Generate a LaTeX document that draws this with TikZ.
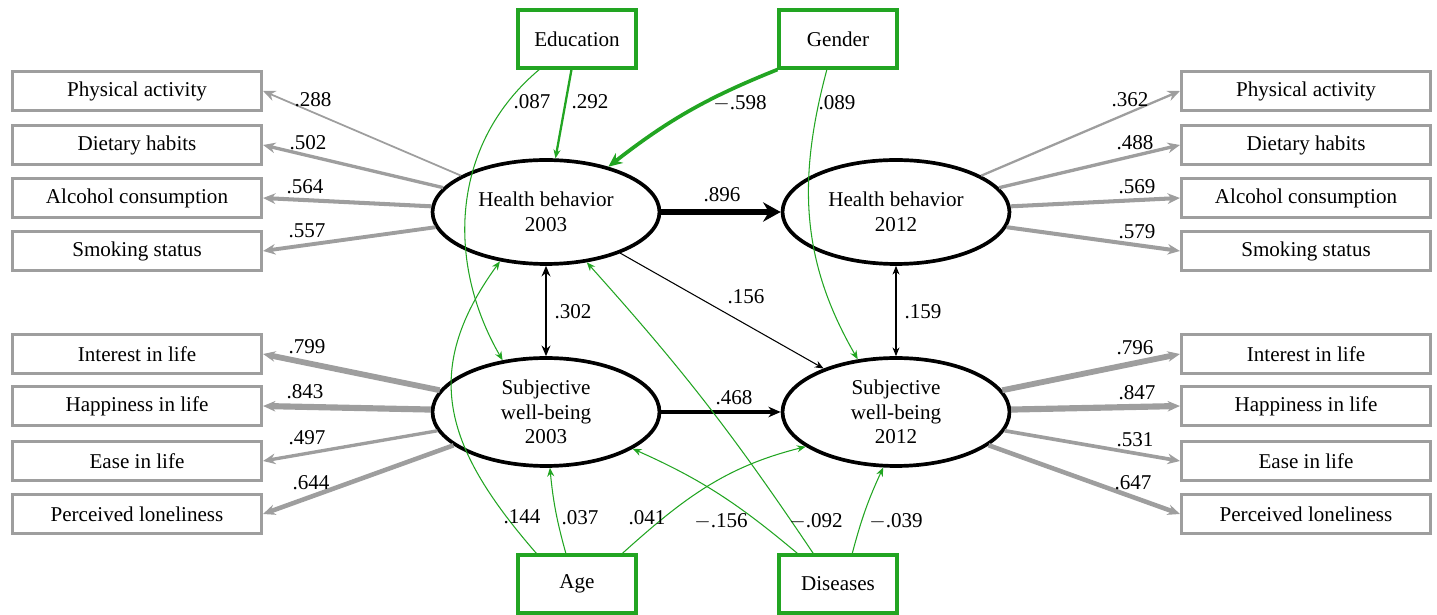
\documentclass[tikz,border=0pt]{standalone}
\usepackage{fontspec}
\setmainfont{Liberation Serif}
\usetikzlibrary{shapes.geometric,arrows.meta}
\definecolor{loadgray}{RGB}{158,158,158}
\definecolor{covgreen}{RGB}{34,165,34}

\begin{document}
\begin{tikzpicture}[x=0.02cm,y=0.02cm,
  every node/.style={font=\fontsize{12}{14}\selectfont},
  item/.style={draw=loadgray,line width=1.8pt,minimum width=4.98cm,minimum height=0.78cm,inner sep=0pt},
  covar/.style={draw=covgreen,line width=1.8pt,minimum width=2.36cm,minimum height=1.16cm,inner sep=0pt},
  latent/.style={draw,ellipse,line width=2.1pt,minimum width=4.54cm,minimum height=2.08cm,inner sep=1pt,align=center},
  load/.style={draw=loadgray,-{Stealth[length=7pt,width=6pt]}},
  eff/.style={draw=covgreen,line width=0.6pt,-{Stealth[length=5pt,width=4pt]}},
  coef/.style={inner sep=1pt}]

\useasboundingbox (0,0) rectangle (1437,615);

% latent variables
\node[latent] (hb1) at (546,403) {Health behavior\\2003};
\node[latent] (hb2) at (896,403) {Health behavior\\2012};
\node[latent,minimum height=2.16cm] (swb1) at (546,203) {Subjective\\well-being\\2003};
\node[latent,minimum height=2.16cm] (swb2) at (896,203) {Subjective\\well-being\\2012};

% covariates
\node[covar] (edu) at (577,576) {Education};
\node[covar] (gen) at (838,576) {Gender};
\node[covar] (age) at (577,31) {Age};
\node[covar] (dis) at (838,31) {Diseases};

% indicators 2003
\node[item] (pa1) at (137,524) {Physical activity};
\node[item] (dh1) at (137,470) {Dietary habits};
\node[item] (ac1) at (137,417) {Alcohol consumption};
\node[item] (ss1) at (137,364) {Smoking status};
\node[item] (il1) at (137,261) {Interest in life};
\node[item] (hl1) at (137,209) {Happiness in life};
\node[item] (el1) at (137,154) {Ease in life};
\node[item] (pl1) at (137,101) {Perceived loneliness};

% indicators 2012
\node[item] (pa2) at (1306,524) {Physical activity};
\node[item] (dh2) at (1306,470) {Dietary habits};
\node[item] (ac2) at (1306,417) {Alcohol consumption};
\node[item] (ss2) at (1306,364) {Smoking status};
\node[item] (il2) at (1306,261) {Interest in life};
\node[item] (hl2) at (1306,209) {Happiness in life};
\node[item] (el2) at (1306,154) {Ease in life};
\node[item] (pl2) at (1306,101) {Perceived loneliness};

% loadings
\draw[load,line width=1.0pt] (hb1) -- (pa1.east);
\draw[load,line width=1.9pt] (hb1) -- (dh1.east);
\draw[load,line width=2.3pt] (hb1) -- (ac1.east);
\draw[load,line width=2.2pt] (hb1) -- (ss1.east);
\draw[load,line width=3.3pt] (swb1) -- (il1.east);
\draw[load,line width=3.5pt] (swb1) -- (hl1.east);
\draw[load,line width=1.9pt] (swb1) -- (el1.east);
\draw[load,line width=2.6pt] (swb1) -- (pl1.east);
\draw[load,line width=1.3pt] (hb2) -- (pa2.west);
\draw[load,line width=1.9pt] (hb2) -- (dh2.west);
\draw[load,line width=2.3pt] (hb2) -- (ac2.west);
\draw[load,line width=2.3pt] (hb2) -- (ss2.west);
\draw[load,line width=3.3pt] (swb2) -- (il2.west);
\draw[load,line width=3.5pt] (swb2) -- (hl2.west);
\draw[load,line width=2.1pt] (swb2) -- (el2.west);
\draw[load,line width=2.6pt] (swb2) -- (pl2.west);

\node[coef] (c288) at (313,515) {.288};
\node[coef] (c502) at (308,472) {.502};
\node[coef] (c564) at (305,428) {.564};
\node[coef] (c557) at (307,384) {.557};
\node[coef] (c799) at (307,268) {.799};
\node[coef] (c843) at (305,223) {.843};
\node[coef] (c497) at (307,177) {.497};
\node[coef] (c644) at (311,132) {.644};
\node[coef] (c362) at (1130,515) {.362};
\node[coef] (c488) at (1135,472) {.488};
\node[coef] (c569) at (1137,428) {.569};
\node[coef] (c579) at (1137,383) {.579};
\node[coef] (c796) at (1135,267) {.796};
\node[coef] (c847) at (1137,222) {.847};
\node[coef] (c531) at (1135,175) {.531};
\node[coef] (c647) at (1133,132) {.647};

% structural paths
\draw[line width=3.6pt,-{Stealth[length=10pt,width=11pt]}] (hb1.east) -- (hb2.west);
\draw[line width=2pt,-{Stealth[length=7pt,width=6pt]}] (swb1.east) -- (swb2.west);
\draw[line width=0.6pt,-{Stealth[length=5pt,width=4pt]}] (hb1.331) -- (swb2.149);
\draw[line width=1.3pt,{Stealth[length=6pt,width=5pt]}-{Stealth[length=6pt,width=5pt]}] (hb1.south) -- (swb1.north);
\draw[line width=0.6pt,{Stealth[length=5pt,width=4pt]}-{Stealth[length=5pt,width=4pt]}] (hb2.south) -- (swb2.north);

\node[coef] (c896) at (722,420) {.896};
\node[coef] (c468) at (734,217) {.468};
\node[coef] (c156) at (746,318) {.156};
\node[coef] (c302) at (573,303) {.302};
\node[coef] (c159) at (923,303) {.159};

% covariate effects
\draw[eff,line width=1.3pt] (edu) -- (hb1.80);
\draw[eff] (edu.219) to[out=220,in=120] (swb1.130);
\draw[eff,line width=2.1pt,-{Stealth[length=8pt,width=7pt]}] (gen.south west) to[bend right=8] (hb1.36);
\draw[eff] (gen.250) to[out=255,in=120] (swb2.126);
\draw[eff] (age.143) to[out=131,in=234,looseness=1.2] (hb1.227);
\draw[eff] (age.110) to[bend left=5] (swb1.274);
\draw[eff] (age.34) to[out=42,in=194] (swb2.201);
\draw[eff] (dis.143) to[out=140,in=336] (swb1.337);
\draw[eff] (dis.129) to[bend right=4] (hb1.309);
\draw[eff] (dis.65) to[bend left=5] (swb2.257);

\node[coef] (c087) at (532,513) {.087};
\node[coef] (c292) at (590,513) {.292};
\node[coef] (c598) at (740,512) {$-$.598};
\node[coef] (c089) at (837,512) {.089};
\node[coef] (c144) at (522,98) {.144};
\node[coef] (c037) at (580,97) {.037};
\node[coef] (c041) at (647,97) {.041};
\node[coef] (c156b) at (721,94) {$-$.156};
\node[coef] (c092) at (816,94) {$-$.092};
\node[coef] (c039) at (896,94) {$-$.039};
\end{tikzpicture}
\end{document}
